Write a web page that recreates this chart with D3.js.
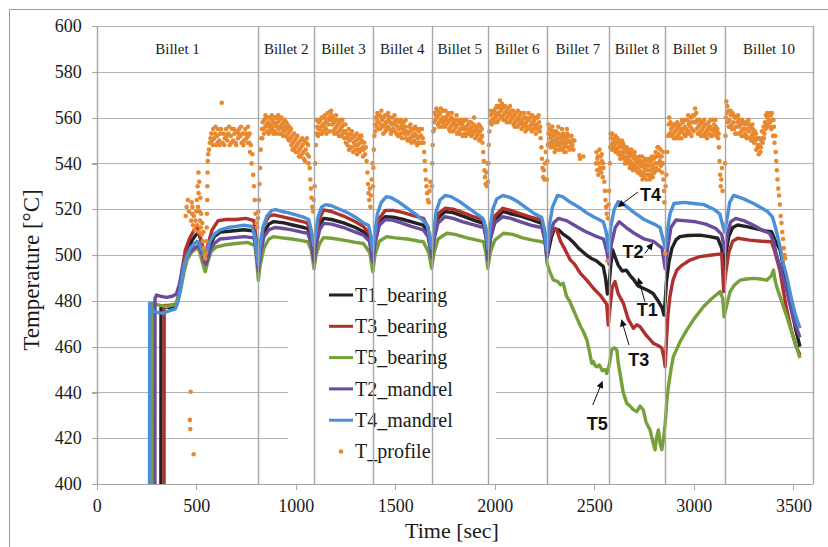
<!DOCTYPE html>
<meta charset="utf-8">
<head>
	<script src="https://d3js.org/d3.v7.min.js"></script>
	<style>
		body { margin: 0; background: #fff; }
		#chart svg { display: block; }
		.serif { font-family: "Liberation Serif", "Times New Roman", serif; fill: #1a1a1a; }
		.grid line { stroke: #b3b3b3; stroke-width: 1.2; shape-rendering: crispEdges; }
		.axis path, .axis line { stroke: #a6a6a6; stroke-width: 1.2; shape-rendering: crispEdges; }
		.series { fill: none; stroke-width: 3.4; stroke-linejoin: round; }
		.note { font-family: "Liberation Sans", Arial, sans-serif; font-weight: bold; font-size: 18px; fill: #111; }
	</style>
</head>
<body>
	<div id="chart"></div>
</body>
<script>

	// ---- data (time in s, temperature in degC) ----
	var billetEdges = [0, 812, 1092, 1387, 1683, 1965, 2261, 2574, 2856, 3155, 3600];
	var billetNames = ["Billet 1", "Billet 2", "Billet 3", "Billet 4", "Billet 5",
		"Billet 6", "Billet 7", "Billet 8", "Billet 9", "Billet 10"];
	var yTicks = [400, 420, 440, 460, 480, 500, 520, 540, 560, 580, 600];
	var xTicks = [0, 500, 1000, 1500, 2000, 2500, 3000, 3500];

	var t1Bearing = [[320,20],[323,477],[340,477.5],[370,477],[400,478],[415,483],[430,492],[445,499],[460,503],[480,506.5],[500,509],[512,509.6],[525,506],[540,499],[550,497],[565,503],[590,508],[620,510],[680,510.5],[740,511],[790,510.5],[800,505],[812,496],[822,503],[840,510],[865,513.5],[890,514.6],[940,514],[990,513],[1040,512],[1060,511.5],[1078,507],[1092,498],[1103,506],[1120,513],[1140,516],[1180,515.5],[1240,514],[1300,512],[1340,510.2],[1372,508],[1387,497],[1398,506],[1420,514],[1450,516.7],[1490,516.5],[1540,515.5],[1600,514],[1640,513],[1665,510],[1683,499],[1695,508],[1715,516],[1750,519],[1790,518.5],[1840,517],[1900,515],[1943,513.8],[1957,508],[1965,497],[1977,507],[2000,515],[2040,519],[2080,518],[2130,517],[2180,515.5],[2236,513.8],[2250,508],[2262,499],[2270,502],[2285,508],[2300,511.5],[2320,511],[2345,509],[2370,507.5],[2395,505.5],[2420,503],[2440,501.5],[2460,500],[2485,498.5],[2510,497.5],[2530,496],[2545,495],[2556,490],[2566,483],[2574,487],[2583,496],[2592,502.2],[2605,499],[2620,495.6],[2640,493],[2660,493.4],[2680,491],[2700,489],[2720,486.5],[2745,485.5],[2770,484.5],[2795,483.2],[2820,480],[2840,477],[2850,473.8],[2856,480],[2862,488],[2875,497],[2890,503],[2910,506.6],[2930,508],[2970,508.5],[3030,508.7],[3080,508],[3120,507.3],[3140,503],[3150,492.7],[3160,500],[3175,508],[3195,512],[3220,513.1],[3260,512.5],[3310,511.5],[3360,510.5],[3390,510.2],[3405,507],[3433,502.2],[3450,495],[3467,487.6],[3490,477],[3510,468],[3533,460]];

	var t3Bearing = [[335,20],[339,478],[360,478],[400,478.5],[415,484],[430,494],[445,502],[465,507],[490,511],[505,511.8],[520,508],[535,501],[548,499],[560,505],[580,511],[610,515],[650,515.5],[700,515.5],[750,516],[790,515],[800,508],[812,498],[822,505],[840,513],[865,517],[890,517.5],[940,516.5],[990,515.5],[1040,514.5],[1060,513.8],[1078,509],[1092,500],[1103,508],[1120,516],[1140,519.7],[1180,519],[1240,517],[1300,514.5],[1340,512.4],[1372,509],[1387,499],[1398,508],[1420,516],[1450,519.5],[1490,519.5],[1540,518.5],[1600,517],[1641,516],[1665,512],[1683,500],[1695,510],[1715,518],[1750,520.4],[1790,520],[1840,518.5],[1900,516.5],[1943,515.3],[1957,510],[1965,498],[1977,509],[2000,517],[2040,520.4],[2080,519.5],[2130,518],[2180,516.5],[2236,515.3],[2250,510],[2262,500],[2275,507],[2295,511.6],[2311,511],[2330,506],[2355,502],[2378,498],[2400,496],[2430,492],[2462,489],[2495,485.5],[2529,482.5],[2550,480],[2562,478.5],[2570,469.4],[2580,478],[2590,486],[2604,488.4],[2620,483],[2646,478.9],[2670,472],[2696,468],[2713,469.5],[2730,468.7],[2760,465],[2797,461.4],[2820,460.5],[2839,459.3],[2850,455],[2856,451.2],[2862,462],[2870,474],[2880,482],[2895,489],[2915,493.5],[2940,495.5],[2980,497.8],[3030,499.3],[3090,500],[3140,500.5],[3150,484],[3160,492],[3175,501],[3195,506],[3220,507.3],[3280,506.5],[3340,506],[3390,505.8],[3405,502],[3433,493],[3450,484],[3467,476],[3490,467],[3510,461],[3533,456.3]];

	var t5Bearing = [[276,20],[278,479],[290,478.5],[320,478],[350,477.5],[380,478],[400,479],[420,484],[440,493],[455,498],[475,501],[500,503],[515,502],[530,497],[545,492.7],[558,497],[575,501.5],[600,503.5],[650,504.5],[700,505],[760,505.5],[795,504],[805,496],[812,489],[820,495],[840,503],[865,507],[888,508],[930,507.5],[980,507],[1030,506.3],[1060,505.8],[1078,502],[1092,494],[1102,500],[1120,505],[1139,507.6],[1180,507.3],[1240,506.5],[1300,505.5],[1340,505],[1372,501],[1387,492.7],[1398,500],[1420,506],[1457,508],[1500,507.5],[1560,507],[1620,506],[1641,505.8],[1668,501],[1683,494.2],[1695,501],[1715,507],[1759,509.5],[1800,509],[1860,507.5],[1910,506.5],[1943,505.8],[1955,501],[1965,494.2],[1977,501],[2000,506.5],[2043,509.5],[2090,509],[2140,507.5],[2190,506.5],[2236,505.8],[2255,505],[2262,496.4],[2275,493],[2294,489],[2315,488.5],[2330,487],[2344,487.6],[2360,482],[2375,480],[2395,476],[2410,473],[2430,469],[2445,466.5],[2462,463],[2475,458],[2487,452.7],[2495,453.5],[2505,451.5],[2512,451.2],[2525,452],[2540,449.5],[2555,450],[2562,448.3],[2575,452],[2587,458.5],[2600,459.5],[2613,458.5],[2620,453],[2629,448.3],[2645,440],[2663,435.2],[2680,434],[2695,432.5],[2713,431.6],[2730,434],[2746,432.3],[2760,427],[2780,423.6],[2795,418],[2805,414.9],[2812,420],[2822,423.6],[2830,418],[2839,415],[2848,420],[2856,426.5],[2864,436],[2872,442.5],[2885,450],[2897,455.6],[2930,462],[2964,467.2],[3000,472],[3048,477.4],[3090,481],[3132,484],[3145,481],[3152,473],[3165,478],[3182,484],[3205,487],[3232,489],[3265,489.5],[3299,489.8],[3335,489.5],[3366,489],[3390,491],[3400,493.4],[3408,489],[3416,486.2],[3440,480],[3467,473],[3500,464],[3533,455]];

	var t2Mandrel = [[290,20],[293,481],[300,482.5],[320,482],[350,481.5],[380,482],[400,483],[415,487],[430,494],[445,498],[465,501],[490,503],[510,504],[525,502],[540,497],[550,496],[565,501],[590,505],[620,507],[680,507.5],[740,508],[790,507.5],[800,503],[812,493],[822,500],[840,508],[865,511],[895,512],[930,511.7],[980,511],[1030,510],[1060,509.5],[1078,505],[1092,497],[1102,504],[1120,511],[1140,513.8],[1180,513.5],[1240,512],[1300,510],[1340,508.7],[1370,506],[1387,497],[1398,505],[1420,513],[1450,515.5],[1480,515.3],[1530,514],[1580,512.5],[1640,511],[1665,508],[1683,499],[1695,507],[1715,514],[1750,516.7],[1790,516],[1840,514.5],[1900,513],[1945,512],[1957,507],[1965,498],[1977,507],[2000,514],[2040,516.7],[2080,516],[2130,514.5],[2180,513],[2236,512],[2250,507],[2262,499],[2275,508],[2295,514],[2320,516],[2360,515],[2400,513],[2450,510.5],[2500,508.5],[2546,507],[2562,502],[2574,496],[2586,505],[2605,512],[2625,514.5],[2660,512],[2700,509.5],[2750,507],[2800,505.8],[2840,503],[2856,494],[2868,503],[2885,512],[2910,515.3],[2950,515],[3010,514.5],[3060,513.5],[3110,511.6],[3140,509],[3155,501.5],[3168,509],[3185,514.5],[3210,516],[3250,515],[3300,513],[3350,510.5],[3380,509.5],[3400,506],[3415,500],[3433,495],[3467,484],[3500,472],[3533,464]];

	var t4Mandrel = [[262,20],[266,479],[275,476],[300,475],[330,474.5],[360,475.5],[395,476.5],[410,480],[425,488],[440,496],[455,500],[470,503],[490,505],[505,506],[515,505],[530,502],[545,499],[555,502],[570,506],[590,509],[620,511],[660,512],[700,512.5],[740,513],[780,512.5],[795,508],[805,500],[812,496],[820,503],[835,512],[855,517],[880,519.5],[900,519.8],[930,519],[960,518.5],[1000,517.5],[1040,516.5],[1065,515.5],[1080,510],[1090,504],[1098,508],[1110,516],[1130,521],[1150,522],[1180,521.5],[1220,520],[1260,518.5],[1300,516.5],[1340,514],[1365,513],[1378,508],[1387,502],[1395,508],[1410,518],[1430,523],[1455,525.5],[1480,525],[1520,523],[1560,520.5],[1600,518],[1640,515],[1660,513],[1672,508],[1683,503],[1692,510],[1705,519],[1725,524],[1750,526],[1780,525.5],[1820,523.5],[1860,521],[1900,518.5],[1940,516],[1955,512],[1965,503],[1975,511],[1990,520],[2010,524.5],[2040,526],[2080,525],[2120,523],[2160,520.5],[2200,518],[2235,516.5],[2250,511],[2262,502],[2272,512],[2290,521],[2315,526],[2340,525.5],[2380,523],[2420,521],[2460,518.5],[2500,516.5],[2545,514.5],[2560,510],[2572,501.5],[2582,512],[2600,520],[2620,523.3],[2650,522],[2700,518.5],[2750,515.5],[2800,513.5],[2830,512],[2845,507],[2856,503],[2866,510],[2880,518],[2900,522.5],[2950,523],[3000,522.5],[3050,522],[3100,520],[3130,518],[3145,513],[3155,510],[3165,515],[3180,523],[3200,526],[3250,524.5],[3300,522.5],[3340,520.5],[3370,519],[3395,516.5],[3410,512],[3433,503.6],[3450,496],[3467,490.5],[3490,481],[3510,474],[3533,468]];

	var profileB1 = [[468,428],[470,424],[472,440.3],[487,413],[447,517],[452,521],[458,524],[463,519],[475,515],[477,523],[479,518],[481,521],[484,513],[488,517],[492,511],[496,515],[500,519],[503,524],[505,513],[507,530],[509,521],[511,536],[512,527],[513,510],[515,532],[517,519],[519,515],[521,525],[523,512],[525,518],[527,509],[530,514],[533,506],[536,510],[539,503],[542,500],[545,498.5],[548,501],[551,506],[553,512],[554,518],[555,524],[556,530],[557,536],[558,541],[560,544],[564,546],[568,549],[572,551],[576,553],[580,550],[585,555],[590,551],[595,553],[600,548],[605,552],[610,555],[615,550],[620,553],[628,566.5],[632,549],[638,553],[644,551],[650,555],[656,550],[662,553],[668,548],[674,552],[680,555],[686,550],[692,553],[698,549],[704,554],[710,551],[716,555],[722,552],[728,549],[734,553],[740,550],[746,555],[752,551],[758,549],[762,552],[766,549],[770,545],[774,548],[778,540],[782,544],[786,535],[790,530],[794,524],[798,518],[802,514],[806,512],[810,516],
		[583,548],[597,556],[607,549],[618,548],[625,555],[641,548],[653,552],[665,556],[677,549],[689,555],[701,548],[713,553],[725,556],[737,548],[749,553],[760,556],[768,553]];

	var profileB2 = [[812,519],[815,524],[818,531],[821,538],[824,546],[827,551],[830,555],[834,558],[838,555],[842,559],[846,556],[850,560],[854,557],[858,554],[862,558],[866,556],[870,560],[874,557],[878,555],[882,559],[886,556],[890,558],[894,554],[898,557],[902,560],[906,556],[910,558],[914,555],[918,559],[922,556],[926,553],[930,557],[934,555],[938,558],[942,554],[946,556],[950,552],[954,555],[958,557],[962,553],[966,550],[970,554],[974,551],[978,548],[982,552],[986,549],[990,546],[994,550],[998,547],[1002,551],[1006,548],[1010,545],[1014,549],[1018,546],[1022,543],[1026,547],[1030,544],[1034,548],[1038,545],[1042,550],[1046,541],[1050,546],[1054,549],[1058,544],[1062,548],[1066,543],[1070,538],[1073,533],[1076,529],[1079,525],[1083,521],[1087,519],[1090,524],
		[832,551],[840,553],[848,561],[856,560],[864,553],[872,554],[880,561],[888,553],[896,560],[904,553],[912,561],[920,553],[928,560],[936,552],[944,559],[952,558],[960,551],[968,556],[976,555],[984,546],[992,553],[1000,545],[1008,552],[1016,543],[1024,550],[1032,551],[1040,542],[1048,549],[1056,551],[1064,540]];

	var profileB3 = [[1095,530],[1098,540],[1101,548],[1104,553],[1108,556],[1112,552],[1116,558],[1120,555],[1124,559],[1128,556],[1132,553],[1136,557],[1140,560],[1144,556],[1148,558],[1152,555],[1156,559],[1160,562],[1164,557],[1168,560],[1172,562.5],[1176,559],[1180,561],[1184,557],[1188,554],[1192,558],[1196,555],[1200,559],[1204,556],[1208,553],[1212,557],[1216,554],[1220,558],[1224,555],[1228,552],[1232,556],[1236,553],[1240,557],[1244,551],[1248,554],[1252,549],[1256,553],[1260,548],[1264,552],[1268,546],[1272,550],[1276,553],[1280,547],[1284,551],[1288,545],[1292,549],[1296,552],[1300,546],[1304,550],[1308,544],[1312,548],[1316,551],[1320,545],[1324,549],[1328,546],[1332,550],[1336,547],[1340,546],[1344,549],[1348,544],[1352,547],[1356,541],[1360,536],[1363,531],[1366,527],[1369,524],[1372,529],[1375,521],[1378,526],[1382,533],[1386,540],
		[1106,559],[1114,555],[1122,553],[1130,560],[1138,554],[1146,561],[1154,553],[1162,559],[1170,554],[1178,563],[1186,560],[1194,553],[1202,561],[1210,559],[1218,552],[1226,559],[1234,559],[1242,554],[1250,557],[1258,551],[1266,555],[1274,547],[1282,554],[1290,552],[1298,548],[1306,553],[1314,546],[1322,552],[1330,552],[1338,543]];

	var profileB4 = [[1388,530],[1390,538],[1392,546],[1395,552],[1398,557],[1402,560],[1406,556],[1410,562],[1414,558],[1418,555],[1422,561],[1426,557],[1430,563],[1434,559],[1438,556],[1442,560],[1446,557],[1450,554],[1454,558],[1458,561],[1462,556],[1466,559],[1470,555],[1474,558],[1478,553],[1482,557],[1486,560],[1490,555],[1494,558],[1498,554],[1502,557],[1506,553],[1510,556],[1514,552],[1518,555],[1522,558],[1526,553],[1530,556],[1534,551],[1538,555],[1542,558],[1546,553],[1550,556],[1554,551],[1558,554],[1562,550],[1566,553],[1570,556],[1574,551],[1578,554],[1582,549],[1586,552],[1590,555],[1594,550],[1598,553],[1602,549],[1606,552],[1610,548],[1614,551],[1618,554],[1622,549],[1626,552],[1630,552],[1634,555],[1638,551],[1642,549],[1645,545],[1648,541],[1651,537],[1654,533],[1657,530],[1660,527],[1664,524],[1668,523],[1672,528],[1676,532],
		[1400,554],[1408,559],[1416,561],[1424,555],[1432,560],[1440,553],[1448,561],[1456,555],[1464,562],[1472,560],[1480,554],[1488,557],[1496,561],[1504,559],[1512,559],[1520,552],[1528,559],[1536,557],[1544,554],[1552,559],[1560,553],[1568,550],[1576,557],[1584,555],[1592,552],[1600,556],[1608,555],[1616,549],[1624,555],[1632,549]];

	var profileB5 = [[1684,530],[1686,540],[1688,548],[1691,554],[1694,558],[1698,562],[1702,559],[1706,564],[1710,560],[1714,557],[1718,561],[1722,558],[1726,562],[1730,559],[1734,556],[1738,560],[1742,563],[1746,559],[1750,556],[1754,560],[1758,557],[1762,561],[1766,558],[1770,555],[1774,559],[1778,556],[1782,560],[1786,557],[1790,554],[1794,558],[1798,555],[1802,559],[1806,556],[1810,553],[1814,557],[1818,554],[1822,558],[1826,555],[1830,559],[1834,555],[1838,552],[1842,556],[1846,559],[1850,555],[1854,552],[1858,556],[1862,553],[1866,557],[1870,554],[1874,558],[1878,555],[1882,552],[1886,556],[1890,553],[1894,557],[1898,554],[1902,551],[1906,555],[1910,552],[1914,556],[1918,553],[1922,550],[1926,554],[1930,551],[1934,555],[1938,549],[1942,545],[1945,541],[1948,537],[1951,534],[1954,531],[1957,536],[1960,530],[1963,540],
		[1696,555],[1704,561],[1712,563],[1720,556],[1728,564],[1736,558],[1744,557],[1752,563],[1760,559],[1768,562],[1776,554],[1784,562],[1792,559],[1800,557],[1808,561],[1816,559],[1824,553],[1832,557],[1840,558],[1848,553],[1856,559],[1864,555],[1872,553],[1880,558],[1888,554],[1896,560],[1904,556],[1912,554],[1920,557],[1928,556],[1936,552]];

	var profileB6 = [[1966,532],[1968,540],[1970,548],[1973,554],[1976,558],[1980,561],[1984,557],[1988,562],[1992,559],[1996,563],[2000,560],[2004,564],[2008,561],[2012,558],[2016,562],[2020,565],[2024,561],[2026,567.5],[2030,563],[2034,560],[2038,564],[2042,561],[2046,565],[2050,562],[2054,559],[2058,563],[2062,560],[2066,564],[2070,561],[2074,558],[2078,562],[2082,559],[2086,563],[2090,560],[2094,557],[2098,561],[2102,558],[2106,562],[2110,559],[2114,556],[2118,560],[2122,557],[2126,561],[2130,558],[2134,555],[2138,559],[2142,556],[2146,560],[2150,557],[2154,554],[2158,558],[2162,555],[2166,559],[2170,562],[2174,556],[2178,560],[2182,557],[2186,554],[2190,558],[2194,555],[2198,559],[2202,556],[2206,553],[2210,557],[2214,560],[2218,555],[2222,558],[2226,554],[2230,551],[2234,547],[2237,542],[2240,538],[2243,534],[2246,537],[2249,533],[2252,540],[2256,545],
		[1978,563],[1986,559],[1994,562],[2002,558],[2010,565],[2018,559],[2028,564],[2036,566],[2044,559],[2052,565],[2060,558],[2068,562],[2076,565],[2084,561],[2092,563],[2100,556],[2108,559],[2116,563],[2124,559],[2132,562],[2140,557],[2148,562],[2156,560],[2164,556],[2172,559],[2180,555],[2188,561],[2196,557],[2204,560],[2212,555],[2220,561],[2228,556]];

	var profileB7 = [[2262,533],[2264,541],[2266,548],[2269,553],[2272,549],[2275,555],[2278,551],[2281,547],[2284,552],[2287,549],[2290,554],[2293,550],[2296,547],[2299,552],[2302,548],[2305,553],[2308,550],[2311,546],[2314,551],[2317,548],[2320,553],[2323,549],[2326,546],[2329,551],[2332,547],[2335,552],[2338,549],[2341,546],[2344,550],[2347,547],[2350,552],[2353,548],[2356,545],[2360,549],[2364,553],[2368,547],[2372,550],[2376,546],[2380,549],[2385,552],[2390,548],[2395,546],[2400,550],[2425,543.5],[2428,542],[2445,543],[2508,540],[2511,545],[2514,537],[2517,543],[2520,535],[2523,540],[2526,546],[2529,538],[2532,543],[2535,536],[2538,541],[2542,534],[2546,538],[2550,532],[2553,528],[2556,524],[2559,521],[2562,518],[2566,497.5],[2568,516],[2571,522],[2574,528],
		[2270,557],[2277,553],[2283,548],[2289,556],[2295,552],[2301,545],[2307,554],[2313,549],[2319,556],[2325,551],[2331,549],[2337,555],[2343,553],[2349,545],[2355,551],[2362,555],[2370,552],[2378,547],[2387,550],[2393,550],[2515,542],[2525,537],[2537,544],[2544,540]];

	var profileB8 = [[2578,540],[2580,547],[2583,551],[2586,548],[2589,553],[2592,549],[2595,546],[2598,551],[2601,547],[2604,550],[2607,545],[2610,549],[2613,546],[2616,551],[2619,547],[2622,544],[2625,549],[2628,545],[2631,548],[2634,543],[2637,547],[2640,544],[2643,549],[2646,545],[2649,542],[2652,546],[2655,543],[2658,547],[2661,541],[2664,545],[2667,542],[2670,546],[2673,540],[2676,544],[2679,541],[2682,545],[2685,539],[2688,543],[2691,540],[2694,544],[2697,538],[2700,542],[2703,539],[2706,543],[2709,537],[2712,541],[2715,538],[2718,542],[2721,536],[2724,540],[2727,537],[2730,541],[2733,535],[2736,539],[2739,543],[2742,536],[2745,540],[2748,534],[2751,538],[2754,542],[2757,535],[2760,539],[2763,533],[2766,537],[2769,541],[2772,535],[2775,539],[2778,533],[2781,537],[2784,541],[2787,535],[2790,539],[2793,534],[2796,538],[2799,542],[2802,536],[2805,540],[2808,545],[2811,538],[2814,543],[2817,547],[2820,540],[2823,544],[2826,537],[2829,541],[2832,546],[2835,539],[2838,543],[2841,536],[2844,540],[2847,533],[2850,528],[2852,523],[2856,500.7],[2858,530],
		[2582,553],[2590,546],[2598,548],[2606,552],[2614,549],[2622,550],[2630,542],[2638,550],[2646,548],[2654,540],[2662,547],[2670,543],[2678,538],[2686,546],[2694,537],[2702,545],[2710,540],[2718,536],[2726,543],[2734,539],[2742,533],[2750,541],[2758,537],[2766,541],[2774,542],[2782,534],[2790,543],[2798,536],[2806,543],[2814,537],[2822,547],[2830,543],[2838,540],[2846,545]];

	var profileB9 = [[2862,535],[2866,545],[2870,552],[2874,557],[2878,553],[2882,558],[2886,555],[2890,552],[2894,556],[2898,553],[2902,557],[2906,554],[2910,551],[2914,555],[2918,552],[2922,556],[2926,553],[2930,557],[2934,554],[2938,551],[2942,555],[2946,558],[2950,553],[2954,556],[2958,552],[2962,555],[2966,559],[2970,554],[2974,557],[2978,553],[2982,556],[2986,560],[2990,555],[2994,558],[2998,554],[3002,561],[3006,564],[3010,558],[3014,555],[3018,559],[3022,556],[3026,553],[3030,557],[3034,554],[3038,558],[3042,555],[3046,552],[3050,556],[3054,553],[3058,557],[3062,554],[3066,551],[3070,555],[3074,558],[3078,553],[3082,556],[3086,552],[3090,555],[3094,559],[3098,554],[3102,557],[3106,553],[3110,556],[3114,552],[3118,555],[3122,551],[3126,547],[3129,541],[3132,535],[3135,530],[3138,533],[3141,538],[3144,528],
		[2876,560],[2884,553],[2892,557],[2900,551],[2908,557],[2916,558],[2924,551],[2932,555],[2940,559],[2948,555],[2956,559],[2964,553],[2972,561],[2980,558],[2988,552],[2996,561],[3004,558],[3012,562],[3020,553],[3028,559],[3036,552],[3044,558],[3052,559],[3060,552],[3068,557],[3076,555],[3084,559],[3092,552],[3100,555],[3108,559],[3116,554],[3124,553]];

	var profileB10 = [[3157,540],[3159,552],[3161,560],[3163,567],[3166,562],[3170,558],[3174,563],[3178,559],[3182,556],[3186,561],[3190,557],[3194,562],[3198,558],[3202,555],[3206,560],[3210,556],[3214,553],[3218,558],[3222,561],[3226,556],[3230,553],[3234,557],[3238,554],[3242,559],[3246,555],[3250,552],[3254,557],[3258,553],[3262,558],[3266,551],[3270,555],[3274,559],[3278,554],[3282,551],[3286,556],[3290,552],[3294,557],[3298,553],[3302,549],[3306,554],[3310,550],[3314,546],[3318,551],[3322,547],[3326,544],[3330,548],[3334,545],[3338,550],[3342,554],[3346,549],[3350,556],[3354,553],[3358,558],[3362,561],[3366,557],[3370,560],[3374,556],[3378,562],[3382,558],[3386,561],[3390,555],[3394,559],[3398,552],[3402,556],[3405,549],[3408,552],[3411,545],[3414,541],[3417,537],[3420,533],[3424,529],[3428,526],[3432,522],[3436,517],[3440,514],[3444,510],[3448,507],[3452,503],[3456,500],[3459,498.5],
		[3168,565],[3176,556],[3184,563],[3192,555],[3200,561],[3208,553],[3216,560],[3224,558],[3232,559],[3240,552],[3248,558],[3256,555],[3264,552],[3272,557],[3280,557],[3288,550],[3296,555],[3304,551],[3312,553],[3320,548],[3328,551],[3336,547],[3344,551],[3352,551],[3360,555],[3368,562],[3376,559],[3384,556],[3392,562],[3400,559]];

	var tProfile = [].concat(profileB1, profileB2, profileB3, profileB4, profileB5,
		profileB6, profileB7, profileB8, profileB9, profileB10);

	var lineSeries = [
		{ name: "T1_bearing", color: "#222222", values: t1Bearing },
		{ name: "T3_bearing", color: "#b0302c", values: t3Bearing },
		{ name: "T5_bearing", color: "#76a13a", values: t5Bearing },
		{ name: "T2_mandrel", color: "#6b4c9c", values: t2Mandrel },
		{ name: "T4_mandrel", color: "#4a8fd8", values: t4Mandrel }
	];
	var profileColor = "#e8892f";

	// label, text anchor (t, T), arrow start (t, T), arrow tip (t, T)
	var notes = [
		{ label: "T4", text: [2729, 523.6], from: [2719, 527.5], to: [2620, 521.1] },
		{ label: "T2", text: [2642, 498.7], from: [2754, 500.7], to: [2793, 505.1] },
		{ label: "T1", text: [2713, 473.4], from: [2754, 479.6], to: [2721, 489.8] },
		{ label: "T3", text: [2670, 451.5], from: [2674, 460.7], to: [2637, 471.6] },
		{ label: "T5", text: [2462, 423.6], from: [2492, 434.5], to: [2540, 444.7] }
	];

	// ---- layout ----
	var W = 828, H = 547;
	var plot = { left: 96.7, right: 813.3, top: 26, bottom: 484 };

	var x = d3.scaleLinear().domain([0, 3600]).range([plot.left, plot.right]);
	var y = d3.scaleLinear().domain([400, 600]).range([plot.bottom, plot.top]);

	var svg = d3.select("#chart").append("svg")
		.attr("width", W)
		.attr("height", H);

	svg.append("defs").append("clipPath")
		.attr("id", "clip")
		.append("rect")
		.attr("x", plot.left).attr("y", plot.top)
		.attr("width", plot.right - plot.left).attr("height", plot.bottom - plot.top);

	svg.append("defs").append("marker")
		.attr("id", "arrow")
		.attr("viewBox", "0 0 10 10")
		.attr("refX", 9).attr("refY", 5)
		.attr("markerWidth", 8).attr("markerHeight", 7)
		.attr("markerUnits", "userSpaceOnUse")
		.attr("orient", "auto")
		.append("path")
		.attr("d", "M0,0 L10,5 L0,10 z")
		.style("fill", "#111");

	// outer frame (only top/left visible in the picture)
	svg.append("path")
		.attr("d", "M9.5," + H + " V9.5 H" + W)
		.style("fill", "none")
		.style("stroke", "#9a9a9a")
		.style("stroke-width", 1);

	// horizontal gridlines
	svg.append("g").attr("class", "grid")
		.selectAll("line")
		.data(yTicks)
		.enter().append("line")
		.attr("x1", plot.left - 5)
		.attr("x2", plot.right)
		.attr("y1", function(d) { return Math.round(y(d)) + 0.5; })
		.attr("y2", function(d) { return Math.round(y(d)) + 0.5; });

	// y axis
	var yAxis = d3.axisLeft(y).tickValues(yTicks).tickSize(5).tickPadding(10).tickFormat(d3.format("d"));
	var yaxis = svg.append("g")
		.attr("class", "y axis")
		.attr("transform", "translate(" + plot.left + ",0)")
		.call(yAxis);
	yaxis.select(".domain").remove();
	yaxis.selectAll("text")
		.attr("class", "serif")
		.style("font-size", "18px");

	// x axis
	var xAxis = d3.axisBottom(x).tickValues(xTicks).tickSize(5).tickPadding(10)
		.tickSizeOuter(0).tickFormat(d3.format("d"));
	var xaxis = svg.append("g")
		.attr("class", "x axis")
		.attr("transform", "translate(0," + (Math.round(plot.bottom) + 0.5) + ")")
		.call(xAxis);
	xaxis.select(".domain").attr("d", "M" + (plot.left - 5) + ",0H" + plot.right);
	xaxis.selectAll("text")
		.attr("class", "serif")
		.style("font-size", "18px");

	// series lines
	var line = d3.line()
		.x(function(d) { return x(d[0]); })
		.y(function(d) { return y(d[1]); });

	var lineArea = svg.append("g").attr("clip-path", "url(#clip)");
	lineArea.selectAll(".series")
		.data(lineSeries)
		.enter().append("path")
		.attr("class", "series")
		.attr("d", function(d) { return line(d.values); })
		.style("stroke", function(d) { return d.color; });

	// T_profile dots
	lineArea.append("g")
		.selectAll("circle")
		.data(tProfile)
		.enter().append("circle")
		.attr("cx", function(d) { return x(d[0]); })
		.attr("cy", function(d) { return y(d[1]); })
		.attr("r", 2.3)
		.style("fill", profileColor);

	// legend
	var legend = svg.append("g").attr("class", "legend_area");
	legend.append("rect")
		.attr("x", 288).attr("y", 281)
		.attr("width", 208).attr("height", 193)
		.style("fill", "#fff");

	var legendRows = lineSeries.map(function(d) { return { name: d.name, color: d.color, dot: false }; })
		.concat([{ name: "T_profile", color: profileColor, dot: true }]);

	var entry = legend.selectAll(".entry")
		.data(legendRows)
		.enter().append("g")
		.attr("class", "entry")
		.attr("transform", function(d, i) { return "translate(0," + (295 + i * 31.3) + ")"; });

	entry.filter(function(d) { return !d.dot; })
		.append("line")
		.attr("x1", 329).attr("x2", 353)
		.style("stroke", function(d) { return d.color; })
		.style("stroke-width", 3);

	entry.filter(function(d) { return d.dot; })
		.append("circle")
		.attr("cx", 341).attr("r", 2.3)
		.style("fill", function(d) { return d.color; });

	entry.append("text")
		.attr("class", "serif")
		.attr("x", 355)
		.attr("dy", "0.33em")
		.style("font-size", "20px")
		.text(function(d) { return d.name; });

	// billet table: vertical separators and labels
	var billets = billetNames.map(function(name, i) {
		return { name: name, start: billetEdges[i], end: billetEdges[i + 1] };
	});

	svg.append("g")
		.selectAll("line")
		.data(billetEdges)
		.enter().append("line")
		.attr("x1", function(d) { return Math.round(x(d)) + 0.5; })
		.attr("x2", function(d) { return Math.round(x(d)) + 0.5; })
		.attr("y1", plot.top)
		.attr("y2", plot.bottom)
		.style("stroke", "#a6a6a6")
		.style("stroke-width", 1.4);

	svg.append("g")
		.selectAll("text")
		.data(billets)
		.enter().append("text")
		.attr("class", "serif")
		.attr("x", function(d) { return (x(d.start) + x(d.end)) / 2; })
		.attr("y", 54)
		.style("font-size", "15px")
		.style("text-anchor", "middle")
		.text(function(d) { return d.name; });

	// annotations
	var note = svg.append("g");
	note.selectAll("line")
		.data(notes)
		.enter().append("line")
		.attr("x1", function(d) { return x(d.from[0]); })
		.attr("y1", function(d) { return y(d.from[1]); })
		.attr("x2", function(d) { return x(d.to[0]); })
		.attr("y2", function(d) { return y(d.to[1]); })
		.style("stroke", "#111")
		.style("stroke-width", 1)
		.attr("marker-end", "url(#arrow)");

	note.selectAll("text")
		.data(notes)
		.enter().append("text")
		.attr("class", "note")
		.attr("x", function(d) { return x(d.text[0]); })
		.attr("y", function(d) { return y(d.text[1]); })
		.text(function(d) { return d.label; });

	// axis titles
	svg.append("text")
		.attr("class", "serif")
		.attr("x", 452)
		.attr("y", 538)
		.style("font-size", "22px")
		.style("text-anchor", "middle")
		.text("Time [sec]");

	svg.append("text")
		.attr("class", "serif")
		.attr("transform", "translate(39,270)rotate(-90)")
		.style("font-size", "23px")
		.style("text-anchor", "middle")
		.text("Temperature [°C]");
</script>
